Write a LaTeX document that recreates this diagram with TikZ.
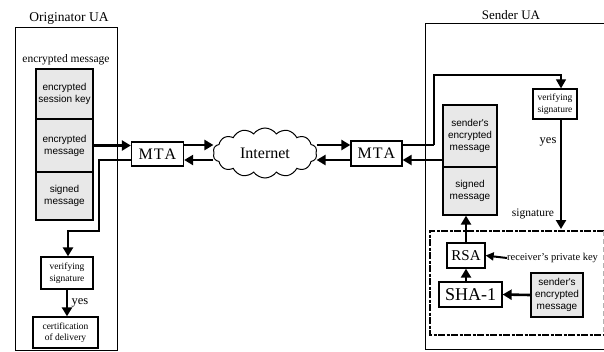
\documentclass[tikz,border=0pt]{standalone}
\usepackage{fontspec}
\setmainfont{Liberation Serif}
\newfontfamily\boxfont{Liberation Sans}
\usetikzlibrary{arrows.meta,positioning,shapes.symbols}

\begin{document}
\begin{tikzpicture}[x=1pt, y=-1pt,
  every node/.style={font=\fontsize{11}{12}\selectfont},
  uaframe/.style={draw, line width=1pt},
  graybox/.style={draw, fill=gray!18, line width=1.3pt, inner sep=0pt, align=center,
    font=\boxfont\fontsize{10}{12}\selectfont},
  smallbox/.style={draw, fill=white, line width=1.3pt, inner sep=0pt, align=center,
    font=\fontsize{9.5}{11.5}\selectfont},
  bigbox/.style={draw, fill=white, line width=1.3pt, inner sep=0pt,
    font=\fontsize{16}{17}\selectfont},
  flow/.style={line width=2.6pt, -{Triangle[length=9pt,width=10pt]}},
  thinflow/.style={line width=2pt, -{Triangle[length=8pt,width=8pt]}}]
\useasboundingbox (0,0) rectangle (604,351);

% Originator UA
\draw[uaframe] (15,27) rectangle (117,350);
\node[font=\fontsize{13.5}{14}\selectfont] (origtitle) at (69,18) {Originator UA};
\node[font=\fontsize{11.5}{12}\selectfont] (emlabel) at (66,60) {encrypted message};
\node[graybox, minimum width=57pt, minimum height=50pt] (esk) at (64.5,94) {encrypted\\session key};
\node[graybox, minimum width=57pt, minimum height=53pt] (em) at (64.5,145.5) {encrypted\\message};
\node[graybox, minimum width=57pt, minimum height=48pt] (sm) at (64.5,196) {signed\\message};
\node[smallbox, minimum width=52pt, minimum height=32pt] (vsL) at (67,273) {verifying\\signature};
\node[smallbox, minimum width=65pt, minimum height=31pt] (cod) at (65.5,332.5) {certification\\of delivery};

% network
\node[bigbox, minimum width=52pt, minimum height=24pt] (mtaL) at (157.5,154) {M\kern1pt T\kern1pt A};
\node[cloud, draw, line width=1pt, cloud puffs=14, cloud puff arc=110, aspect=2.2,
  minimum width=104pt, minimum height=50pt, inner sep=0pt,
  font=\fontsize{16}{17}\selectfont] (net) at (265,153) {Internet};
\node[bigbox, minimum width=51pt, minimum height=25pt] (mtaR) at (376.5,153.5) {M\kern1pt T\kern1pt A};

% Sender UA
\draw[uaframe] (604,23) -- (425,23) -- (425,349) -- (604,349);
\node[font=\fontsize{13}{14}\selectfont] (sendtitle) at (511,15) {Sender UA};
\node[graybox, minimum width=54pt, minimum height=62pt] (sem) at (470,136) {sender's\\encrypted\\message};
\node[graybox, minimum width=54pt, minimum height=48pt] (sigm) at (470,191) {signed\\message};
\node[smallbox, minimum width=44pt, minimum height=30pt] (vsR) at (555,104) {verifying\\signature};

% signature frame
\draw[line width=2.4pt, dash pattern=on 7pt off 1.5pt on 3pt off 1.5pt] (604,231) -- (430,231) -- (430,335) -- (604,335);
\draw[gray!60, line width=0.6pt, dash pattern=on 5pt off 3pt] (603,231) -- (603,335);
\node[bigbox, minimum width=38pt, minimum height=25pt, font=\fontsize{15}{16}\selectfont] (rsa) at (466,255.5) {RSA};
\node[bigbox, minimum width=63pt, minimum height=25pt, font=\fontsize{18}{19}\selectfont] (sha) at (470.5,294.5) {SHA-1};
\node[graybox, minimum width=52pt, minimum height=44pt] (semL) at (557,295) {sender's\\encrypted\\message};
\node[anchor=west, inner sep=0pt, font=\fontsize{10.5}{11}\selectfont] (pk) at (507,258) {receiver's private key};
\node[font=\fontsize{11.5}{12}\selectfont] (siglabel) at (533,214) {signature};

% flows on the left
\coordinate (ltA) at (99,160);
\coordinate (ltB) at (99,231);
\coordinate (ltC) at (68,231);
\draw[flow] (em.east) -- (em.east -| mtaL.west);
\draw[flow] (mtaL.west |- ltA) -- (ltA) -- (ltB) -- (ltC) -- (vsL.north -| ltC);
\draw[flow] (vsL.south) -- node[right, font=\fontsize{12.5}{13}\selectfont] {yes} (vsL.south |- cod.north);
\draw[flow] (mtaL.east |- 0,145) -- (218,145 -| net.west);
\draw[flow] (net.west |- 0,160) -- (mtaL.east |- 0,160);
\draw[flow] (net.east |- 0,145) -- (mtaR.west |- 0,145);
\draw[flow] (mtaR.west |- 0,160) -- (net.east |- 0,160);

% flows on the right
\coordinate (rtA) at (434,145);
\coordinate (rtB) at (434,75);
\coordinate (rtC) at (561,75);
\coordinate (sigtop) at (561,229);
\draw[line width=1.6pt] (mtaR.east |- rtA) -- (rtA);
\draw[flow, line width=1.2pt] (rtA) -- (rtB) -- (rtC) -- (vsR.north -| rtC);
\draw[flow] (sem.west |- 0,160) -- (mtaR.east |- 0,160);
\draw[flow] (vsR.south -| sigtop) -- node[left, pos=0.2, font=\fontsize{12.5}{13}\selectfont] {yes} (sigtop);
\draw[flow] (rsa.north) -- (sigm.south -| rsa.north);
\draw[flow] (sha.north -| rsa.south) -- (rsa.south);
\draw[flow] (semL.west) -- (sha.east);
\draw[thinflow] (pk.west) -- (rsa.east);
\end{tikzpicture}
\end{document}
